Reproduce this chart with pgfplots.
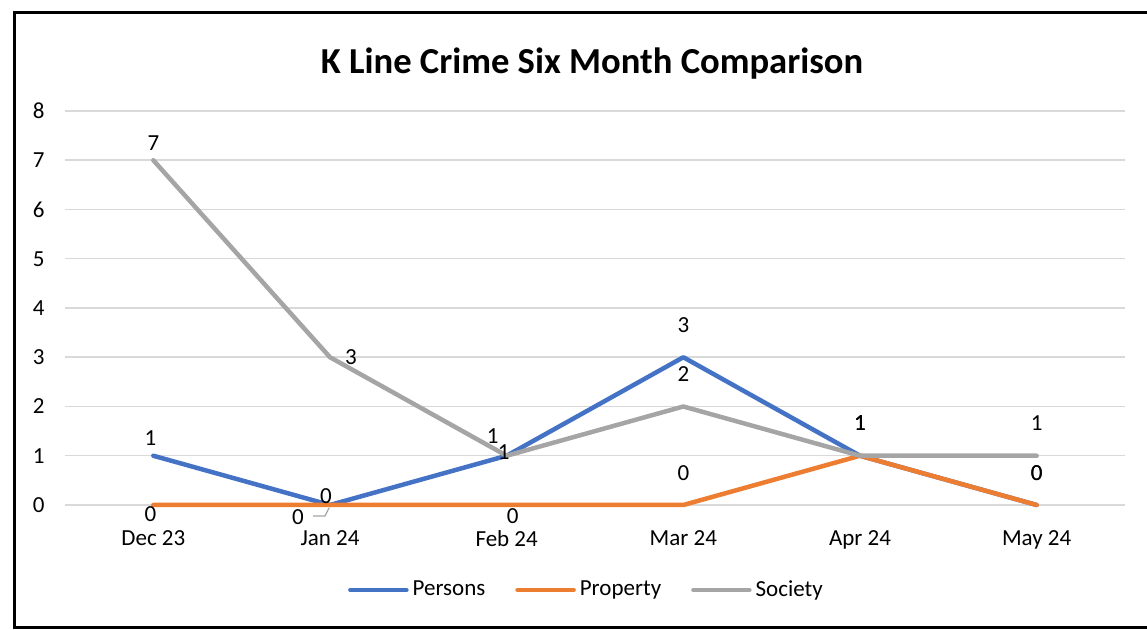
\documentclass[border=0pt]{standalone}
\usepackage{pgfplots}
\pgfplotsset{compat=1.18}
\usepackage{fontspec}
\setmainfont{Carlito}
\definecolor{cPers}{HTML}{4472C4}
\definecolor{cProp}{HTML}{ED7D31}
\definecolor{cSoc}{HTML}{A5A5A5}
\definecolor{cGrid}{HTML}{D9D9D9}
\begin{document}
\begin{tikzpicture}
\useasboundingbox (0,0) rectangle (573.5pt,315pt);
\draw[line width=1.5pt] (580pt,308.75pt) -- (7pt,308.75pt) -- (7pt,1.25pt) -- (580pt,1.25pt);
\node[font=\fontsize{18.3}{21}\selectfont\bfseries] at (296pt,283pt) {K Line Crime Six Month Comparison};
\begin{axis}[
  at={(32.5pt,62.5pt)}, anchor=south west,
  scale only axis, width=530pt, height=197pt,
  clip=false,
  xmin=-0.5, xmax=5.5, ymin=0, ymax=8,
  xtick={0,1,2,3,4,5},
  xticklabels={Dec 23,Jan 24,Feb 24,Mar 24,Apr 24,May 24},
  ytick={0,1,...,8},
  /pgf/number format/assume math mode=true,
  axis line style={draw=none},
  major tick length=0pt,
  ymajorgrids, grid style={cGrid, line width=0.75pt},
  tick label style={font=\fontsize{11.5}{13}\selectfont},
  yticklabel style={anchor=east, inner sep=0pt, xshift=-10pt},
  xticklabel style={anchor=north, inner sep=0pt, yshift=-12.5pt},
  legend style={draw=none, at={(0.4929,-0.2157)}, anchor=center, legend columns=3,
    font=\fontsize{11.5}{13}\selectfont, /tikz/every even column/.append style={column sep=13pt}},
  legend image code/.code={\draw[#1, line cap=round] (0pt,0pt) -- (28pt,0pt);},
  every axis plot/.append style={line width=2.25pt, line cap=round, line join=round, no markers},
  nodes near coords, point meta=explicit symbolic,
  visualization depends on={value \thisrow{dx}\as\dx},
  visualization depends on={value \thisrow{dy}\as\dy},
  every node near coord/.append style={anchor=center, inner sep=0pt, xshift=\dx pt, yshift=\dy pt, font=\fontsize{11.5}{13}\selectfont, text=black},
]
\addplot[cPers] table[x=x, y=y, meta=y] {
x y dx dy
0 1 -1.5 9
1 0 -2 4.5
2 1 -7 10
3 3 0 16
4 1 0 16.5
5 0 0 16
};
\addlegendentry{Persons}
\addplot[cProp] table[x=x, y=y, meta=y] {
x y dx dy
0 0 -1.5 -4.5
1 0 -16 -6
2 0 3 -5.5
3 0 0 16
4 1 0 16.5
5 0 0 16
};
\addlegendentry{Property}
\addplot[cSoc] table[x=x, y=y, meta=y] {
x y dx dy
0 7 0 8.5
1 3 10.5 0
2 1 -1.5 2
3 2 0 16
4 1 0 16.5
5 1 0 16.5
};
\addlegendentry{Society}
\draw[cSoc, line width=0.6pt] ([xshift=-8.5pt,yshift=-5.5pt]axis cs:1,0) -- ([xshift=-2.5pt,yshift=-5.5pt]axis cs:1,0) -- ([xshift=-0.5pt,yshift=-1.5pt]axis cs:1,0);
\end{axis}
\end{tikzpicture}
\end{document}
